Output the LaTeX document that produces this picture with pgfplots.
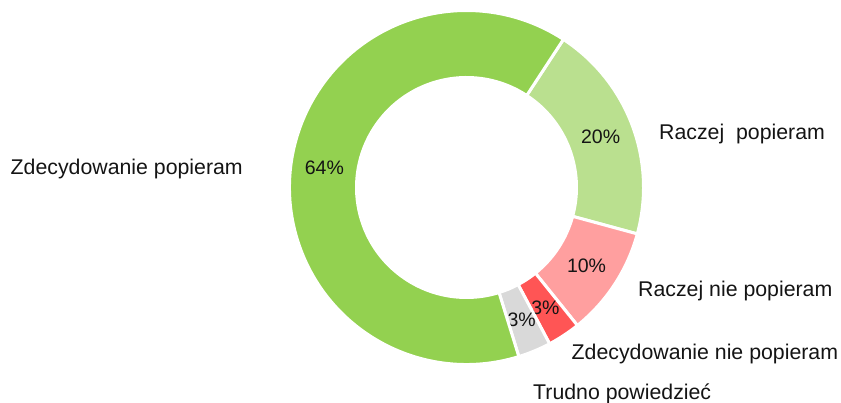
\documentclass[border=0pt]{standalone}
\usepackage{pgfplots}
\pgfplotsset{compat=1.18}
\usepackage{pgfplotstable}
\usepackage{fontspec}
\setmainfont{Liberation Sans}
\definecolor{cA}{HTML}{BAE08F}
\definecolor{cB}{HTML}{FF9F9F}
\definecolor{cC}{HTML}{FF5555}
\definecolor{cD}{HTML}{D9D9D9}
\definecolor{cE}{HTML}{93D150}

% slices in clockwise order, starting at the top-right boundary
\pgfplotstableread{
value col
20 cA
10 cB
3 cC
3 cD
64 cE
}\slices

\def\cx{466.5}\def\cy{215.5}
\def\rout{177}\def\rin{110}\def\rmid{143.5}
\def\curangle{56.8}
\pgfplotsforeachungrouped \i in {0,1,2,3,4}{%
  \pgfplotstablegetelem{\i}{value}\of\slices
  \let\v\pgfplotsretval
  \expandafter\let\csname val\i\endcsname\pgfplotsretval
  \pgfplotstablegetelem{\i}{col}\of\slices
  \expandafter\let\csname col\i\endcsname\pgfplotsretval
  \expandafter\let\csname s\i\endcsname\curangle
  \pgfmathsetmacro\curangle{\curangle-3.6*\v}%
  \expandafter\let\csname e\i\endcsname\curangle
  \pgfmathsetmacro\tmpmid{\csname s\i\endcsname-1.8*\v}%
  \expandafter\let\csname m\i\endcsname\tmpmid
}

\begin{document}
\begin{tikzpicture}
\begin{axis}[width=841pt,height=403pt,scale only axis,
  xmin=0,xmax=841,ymin=0,ymax=403,hide axis,clip=false]
\coordinate (ctr) at (axis cs:\cx,\cy);
\pgfplotsinvokeforeach{0,...,4}{%
  \edef\tmp{\noexpand\filldraw[fill=\csname col#1\endcsname, draw=white, line width=3pt]
   ([shift={(\csname s#1\endcsname:\rout pt)}]ctr)
   arc[start angle=\csname s#1\endcsname, end angle=\csname e#1\endcsname, radius=\rout pt]
   -- ([shift={(\csname e#1\endcsname:\rin pt)}]ctr)
   arc[start angle=\csname e#1\endcsname, end angle=\csname s#1\endcsname, radius=\rin pt]
   -- cycle;}%
  \tmp
  \edef\tmp{\noexpand\node[font=\noexpand\fontsize{19.5}{22}\noexpand\selectfont, text=black!92]
   at ([shift={(\csname m#1\endcsname:\rmid pt)}]ctr) {\csname val#1\endcsname\noexpand\%};}%
  \tmp
}
\tikzset{lab/.style={anchor=base west, inner sep=0pt, font=\fontsize{21.3}{24}\selectfont, text=black!92}}
\node[lab] at (axis cs:10.5,228.3) {Zdecydowanie popieram};
\node[lab] at (axis cs:659,263) {Raczej\ \ popieram};
\node[lab] at (axis cs:638,106.3) {Raczej nie popieram};
\node[lab] at (axis cs:571.5,43.7) {Zdecydowanie nie popieram};
\node[lab] at (axis cs:533,3.7) {Trudno powiedzieć};
\end{axis}
\pgfresetboundingbox
\path[use as bounding box] (0,0) rectangle (841pt,403pt);
\end{tikzpicture}
\end{document}
